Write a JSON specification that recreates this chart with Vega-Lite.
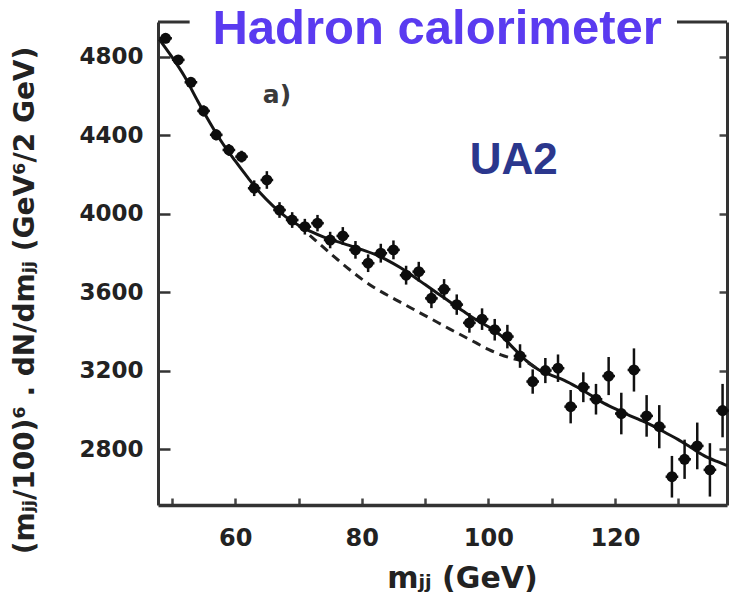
{
  "$schema": "https://vega.github.io/schema/vega-lite/v6.json",
  "width": 569,
  "height": 483,
  "autosize": "none",
  "padding": {"left": 158, "top": 22, "right": 6, "bottom": 95},
  "background": "white",
  "config": {"view": {"stroke": null}},
  "datasets": {
    "points": [
      {"m": 49, "v": 4895, "e": 25, "xe": 1},
      {"m": 51, "v": 4785, "e": 25, "xe": 1},
      {"m": 53, "v": 4671, "e": 25, "xe": 1},
      {"m": 55, "v": 4525, "e": 28, "xe": 1},
      {"m": 57, "v": 4403, "e": 28, "xe": 1},
      {"m": 59, "v": 4326, "e": 30, "xe": 1},
      {"m": 61, "v": 4292, "e": 30, "xe": 1},
      {"m": 63, "v": 4131, "e": 40, "xe": 1},
      {"m": 65, "v": 4173, "e": 45, "xe": 1},
      {"m": 67, "v": 4020, "e": 40, "xe": 1},
      {"m": 69, "v": 3969, "e": 40, "xe": 1},
      {"m": 71, "v": 3935, "e": 40, "xe": 1},
      {"m": 73, "v": 3953, "e": 42, "xe": 1},
      {"m": 75, "v": 3867, "e": 42, "xe": 1},
      {"m": 77, "v": 3888, "e": 45, "xe": 1},
      {"m": 79, "v": 3817, "e": 45, "xe": 1},
      {"m": 81, "v": 3749, "e": 45, "xe": 1},
      {"m": 83, "v": 3800, "e": 48, "xe": 1},
      {"m": 85, "v": 3817, "e": 48, "xe": 1},
      {"m": 87, "v": 3688, "e": 48, "xe": 1},
      {"m": 89, "v": 3706, "e": 50, "xe": 1},
      {"m": 91, "v": 3570, "e": 50, "xe": 1},
      {"m": 93, "v": 3616, "e": 52, "xe": 1},
      {"m": 95, "v": 3538, "e": 52, "xe": 1},
      {"m": 97, "v": 3445, "e": 50, "xe": 1},
      {"m": 99, "v": 3464, "e": 55, "xe": 1},
      {"m": 101, "v": 3410, "e": 55, "xe": 1},
      {"m": 103, "v": 3375, "e": 60, "xe": 1},
      {"m": 105, "v": 3276, "e": 60, "xe": 1},
      {"m": 107, "v": 3146, "e": 62, "xe": 1},
      {"m": 109, "v": 3202, "e": 64, "xe": 1},
      {"m": 111, "v": 3214, "e": 70, "xe": 1},
      {"m": 113, "v": 3018, "e": 85, "xe": 1},
      {"m": 115, "v": 3117, "e": 76, "xe": 1},
      {"m": 117, "v": 3056, "e": 78, "xe": 1},
      {"m": 119, "v": 3174, "e": 97, "xe": 1},
      {"m": 121, "v": 2983, "e": 106, "xe": 1},
      {"m": 123, "v": 3205, "e": 110, "xe": 1},
      {"m": 125, "v": 2971, "e": 106, "xe": 1},
      {"m": 127, "v": 2916, "e": 110, "xe": 1},
      {"m": 129, "v": 2661, "e": 106, "xe": 1},
      {"m": 131, "v": 2750, "e": 100, "xe": 1},
      {"m": 133, "v": 2818, "e": 119, "xe": 1},
      {"m": 135, "v": 2696, "e": 136, "xe": 1},
      {"m": 137, "v": 2998, "e": 136, "xe": 1}
    ],
    "fit": [
      {"m": 48, "v": 4890}, {"m": 50, "v": 4800}, {"m": 52, "v": 4700}, {"m": 54, "v": 4580},
      {"m": 56, "v": 4465}, {"m": 58, "v": 4360}, {"m": 60, "v": 4270}, {"m": 62, "v": 4185},
      {"m": 64, "v": 4105}, {"m": 66, "v": 4040}, {"m": 68, "v": 3985}, {"m": 70, "v": 3942},
      {"m": 72, "v": 3910}, {"m": 74, "v": 3882}, {"m": 76, "v": 3860}, {"m": 78, "v": 3840},
      {"m": 80, "v": 3818}, {"m": 82, "v": 3795}, {"m": 84, "v": 3765}, {"m": 86, "v": 3728},
      {"m": 88, "v": 3685}, {"m": 90, "v": 3640}, {"m": 92, "v": 3595}, {"m": 94, "v": 3550},
      {"m": 96, "v": 3505}, {"m": 98, "v": 3462}, {"m": 100, "v": 3425}, {"m": 102, "v": 3380},
      {"m": 104, "v": 3315}, {"m": 106, "v": 3252}, {"m": 108, "v": 3205}, {"m": 110, "v": 3178},
      {"m": 112, "v": 3152}, {"m": 114, "v": 3118}, {"m": 116, "v": 3080}, {"m": 118, "v": 3040},
      {"m": 120, "v": 3008}, {"m": 122, "v": 2978}, {"m": 124, "v": 2950}, {"m": 126, "v": 2920},
      {"m": 128, "v": 2885}, {"m": 130, "v": 2850}, {"m": 132, "v": 2810}, {"m": 134, "v": 2770},
      {"m": 136, "v": 2740}, {"m": 137.7, "v": 2718}
    ],
    "bg": [
      {"m": 70, "v": 3942}, {"m": 72, "v": 3885}, {"m": 74, "v": 3828}, {"m": 76, "v": 3772},
      {"m": 78, "v": 3718}, {"m": 80, "v": 3668}, {"m": 82, "v": 3624}, {"m": 84, "v": 3587},
      {"m": 86, "v": 3552}, {"m": 88, "v": 3517}, {"m": 90, "v": 3482}, {"m": 92, "v": 3447},
      {"m": 94, "v": 3412}, {"m": 96, "v": 3378}, {"m": 98, "v": 3344}, {"m": 100, "v": 3310},
      {"m": 102, "v": 3282}, {"m": 104, "v": 3262}, {"m": 106, "v": 3245}, {"m": 108, "v": 3205}
    ],
    "frame": [
      {"m": 47.8, "b": 52.8, "v": 4978},
      {"m": 129.8, "b": 137.7, "v": 4978}
    ],
    "notes": [
      {"m": 66.6, "v": 4606, "t": "a)"}
    ],
    "ua2": [
      {"m": 104, "v": 4270, "t": "UA2"}
    ],
    "head": [
      {"m": 91.9, "v": 4943, "t": "Hadron calorimeter"}
    ]
  },
  "resolve": {"scale": {"x": "shared", "y": "shared"}, "axis": {"x": "independent", "y": "independent"}},
  "layer": [
    {
      "encoding": {
        "x": {"field": "m", "type": "quantitative", "title": "mⱼⱼ  (GeV)",
          "scale": {"domain": [47.8, 137.7], "nice": false, "zero": false},
          "axis": {
            "values": [50, 60, 70, 80, 90, 100, 110, 120, 130],
            "labelExpr": "datum.value % 20 == 0 ? datum.label : ''",
            "grid": false,
            "domainWidth": 3.5, "domainColor": "#333",
            "tickSize": -7, "tickWidth": 2.5, "tickColor": "#444",
            "labelFont": "'Liberation Sans Narrow', 'DejaVu Sans', sans-serif", "labelFontSize": 24, "labelFontWeight": "bold", "labelColor": "#222",
            "labelPadding": 28, "labelFlush": false,
            "titleFont": "'Liberation Sans Narrow', 'DejaVu Sans', sans-serif", "titleFontSize": 30, "titleFontWeight": "bold", "titleColor": "#222",
            "titleX": 304, "titleY": 73, "titleBaseline": "middle"
          }
        },
        "y": {"field": "v", "type": "quantitative", "title": "(mⱼⱼ/100)⁶ . dN/dmⱼⱼ  (GeV⁶/2 GeV)",
          "scale": {"domain": [2517, 4978], "nice": false, "zero": false},
          "axis": {
            "orient": "left",
            "values": [2800, 3200, 3600, 4000, 4400, 4800],
            "format": "d",
            "grid": false,
            "domainWidth": 3, "domainColor": "#333",
            "tickSize": -12, "tickWidth": 2.5, "tickColor": "#333",
            "labelFont": "'Liberation Sans Narrow', 'DejaVu Sans', sans-serif", "labelFontSize": 23, "labelFontWeight": "bold", "labelColor": "#222",
            "labelPadding": 27, "labelFlush": false,
            "titleFont": "'Liberation Sans Narrow', 'DejaVu Sans', sans-serif", "titleFontSize": 28, "titleFontWeight": "bold", "titleColor": "#222",
            "titleAngle": -90, "titleX": -133, "titleY": 278, "titleBaseline": "middle", "titleAlign": "center"
          }
        }
      },
      "layer": [
        {
          "data": {"name": "frame"},
          "mark": {"type": "rule", "strokeWidth": 3, "color": "#333"},
          "encoding": {"x2": {"field": "b"}}
        },
        {
          "data": {"name": "fit"},
          "mark": {"type": "line", "strokeWidth": 3, "color": "#151515", "interpolate": "monotone"}
        },
        {
          "data": {"name": "bg"},
          "mark": {"type": "line", "strokeWidth": 3, "color": "#222", "strokeDash": [9, 6], "interpolate": "monotone"}
        },
        {
          "data": {"name": "points"},
          "mark": {"type": "errorbar", "thickness": 2.5, "color": "#111"},
          "encoding": {"yError": {"field": "e"}}
        },
        {
          "data": {"name": "points"},
          "mark": {"type": "errorbar", "thickness": 2.5, "color": "#111"},
          "encoding": {"xError": {"field": "xe"}}
        },
        {
          "data": {"name": "points"},
          "mark": {"type": "circle", "size": 120, "color": "#0d0d0d", "opacity": 1}
        },
        {
          "data": {"name": "notes"},
          "mark": {"type": "text", "font": "'Liberation Sans Narrow', 'DejaVu Sans', sans-serif", "fontSize": 25, "fontWeight": "bold", "color": "#3a3a3a", "baseline": "middle", "align": "center"},
          "encoding": {"text": {"field": "t"}}
        },
        {
          "data": {"name": "ua2"},
          "mark": {"type": "text", "font": "Liberation Sans", "fontWeight": "bold", "fontSize": 44, "color": "#2b378d", "baseline": "middle", "align": "center"},
          "encoding": {"text": {"field": "t"}}
        },
        {
          "data": {"name": "head"},
          "mark": {"type": "text", "font": "Liberation Sans", "fontWeight": "bold", "fontSize": 49, "color": "#5a3bf0", "baseline": "middle", "align": "center"},
          "encoding": {"text": {"field": "t"}}
        }
      ]
    },
    {
      "data": {"name": "points"},
      "mark": {"type": "point", "opacity": 0},
      "encoding": {
        "x": {"field": "m", "type": "quantitative", "title": "mⱼⱼ  (GeV)", "axis": null},
        "y": {"field": "v", "type": "quantitative", "title": "(mⱼⱼ/100)⁶ . dN/dmⱼⱼ  (GeV⁶/2 GeV)",
          "axis": {
            "orient": "right",
            "values": [2800, 3200, 3600, 4000, 4400, 4800],
            "labels": false, "grid": false, "title": null,
            "domainWidth": 3, "domainColor": "#333",
            "tickSize": -8, "tickWidth": 2.5, "tickColor": "#444"
          }
        }
      }
    }
  ]
}
